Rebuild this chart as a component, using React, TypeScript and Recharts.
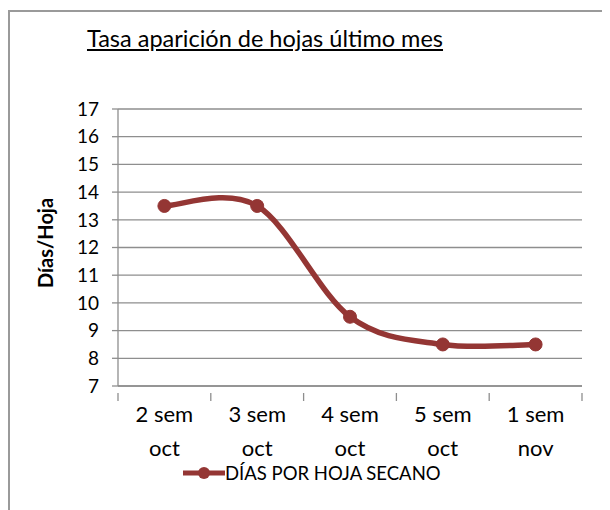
import React from "react";
import { LineChart, Line, XAxis, YAxis, CartesianGrid } from "recharts";

const weeks = ["2 sem|oct", "3 sem|oct", "4 sem|oct", "5 sem|oct", "1 sem|nov"];
const diasPorHoja = [13.5, 13.5, 9.5, 8.5, 8.5];
const yTicks = [7, 8, 9, 10, 11, 12, 13, 14, 15, 16, 17];

const data = weeks.map((w, i) => ({ week: w, secano: diasPorHoja[i] }));

const RED = "#943634";
const GRID = "#8e8e8e";
const FONT = "Lato, 'Noto Sans', sans-serif";

// smoothed line like Excel (catmull-rom style bezier)
function excelCurve(context: any) {
  let pts: number[][] = [];
  return {
    areaStart() {},
    areaEnd() {},
    lineStart() {
      pts = [];
    },
    point(x: number, y: number) {
      pts.push([+x, +y]);
    },
    lineEnd() {
      if (!pts.length) return;
      context.moveTo(pts[0][0], pts[0][1]);
      for (let i = 0; i < pts.length - 1; i++) {
        const p0 = pts[Math.max(i - 1, 0)];
        const p1 = pts[i];
        const p2 = pts[i + 1];
        const p3 = pts[Math.min(i + 2, pts.length - 1)];
        context.bezierCurveTo(
          p1[0] + (p2[0] - p0[0]) / 6,
          p1[1] + (p2[1] - p0[1]) / 6,
          p2[0] - (p3[0] - p1[0]) / 6,
          p2[1] - (p3[1] - p1[1]) / 6,
          p2[0],
          p2[1]
        );
      }
    },
  };
}

const WeekTick = (props: any) => {
  const { x, y, payload, index, visibleTicksCount } = props;
  const [a, b] = String(payload.value).split("|");
  const half = payload.offset || 0;
  const last = index === (visibleTicksCount ?? weeks.length) - 1;
  return (
    <g transform={`translate(${x},${y})`}>
      {half > 0 && <line x1={-half} x2={-half} y1={-1} y2={7} stroke={GRID} strokeWidth={1.3} />}
      {half > 0 && last && <line x1={half} x2={half} y1={-1} y2={7} stroke={GRID} strokeWidth={1.3} />}
      <text x={0} y={19} textAnchor="middle" dominantBaseline="central" fill="#000" fontSize={22} fontFamily={FONT}>
        {a}
      </text>
      <text x={0} y={53} textAnchor="middle" dominantBaseline="central" fill="#000" fontSize={22} fontFamily={FONT}>
        {b}
      </text>
    </g>
  );
};

export default function App() {
  return (
    <div style={{ position: "relative", width: 602, height: 502, fontFamily: FONT }}>
      <div
        style={{
          position: "absolute",
          left: 0,
          top: 2,
          width: 620,
          height: 520,
          borderLeft: "2px solid #9a9a9a",
          borderTop: "2px solid #9a9a9a",
        }}
      />
      <div
        style={{
          position: "absolute",
          left: 0,
          width: 514,
          top: 16,
          textAlign: "center",
          fontSize: 23.5,
          lineHeight: "28px",
          textDecoration: "underline",
          color: "#000",
        }}
      >
        Tasa aparición de hojas último mes
      </div>
      <div
        style={{
          position: "absolute",
          left: 37,
          top: 235,
          transform: "translate(-50%, -50%) rotate(-90deg)",
          fontSize: 20,
          fontWeight: "bold",
          whiteSpace: "nowrap",
        }}
      >
        Días/Hoja
      </div>
      <LineChart width={602} height={500} data={data} margin={{ top: 101, right: 28, bottom: 47, left: 60 }}>
        <CartesianGrid vertical={false} stroke={GRID} strokeWidth={1.3} />
        <XAxis
          dataKey="week"
          scale="band"
          interval={0}
          tick={<WeekTick />}
          tickLine={false}
          axisLine={{ stroke: GRID, strokeWidth: 1.3 }}
          height={75}
        />
        <YAxis
          domain={[7, 17]}
          ticks={yTicks}
          interval={0}
          width={50}
          tickSize={6}
          tickMargin={13}
          tick={{ fill: "#000", fontSize: 19, fontFamily: FONT }}
          tickLine={{ stroke: GRID, strokeWidth: 1.3 }}
          axisLine={{ stroke: GRID, strokeWidth: 1.3 }}
        />
        <Line
          type={excelCurve as any}
          dataKey="secano"
          stroke={RED}
          strokeWidth={5.5}
          dot={{ r: 6.5, fill: RED, stroke: RED, strokeWidth: 1 }}
          isAnimationActive={false}
        />
      </LineChart>
      <div
        style={{
          position: "absolute",
          left: 175,
          top: 455,
          display: "flex",
          alignItems: "center",
          fontSize: 18.5,
          lineHeight: "20px",
          color: "#000",
        }}
      >
        <svg width={42} height={14}>
          <line x1={0} y1={7} x2={42} y2={7} stroke={RED} strokeWidth={5} strokeLinecap="round" />
          <circle cx={21} cy={7} r={6} fill={RED} />
        </svg>
        <span>DÍAS POR HOJA SECANO</span>
      </div>
    </div>
  );
}
